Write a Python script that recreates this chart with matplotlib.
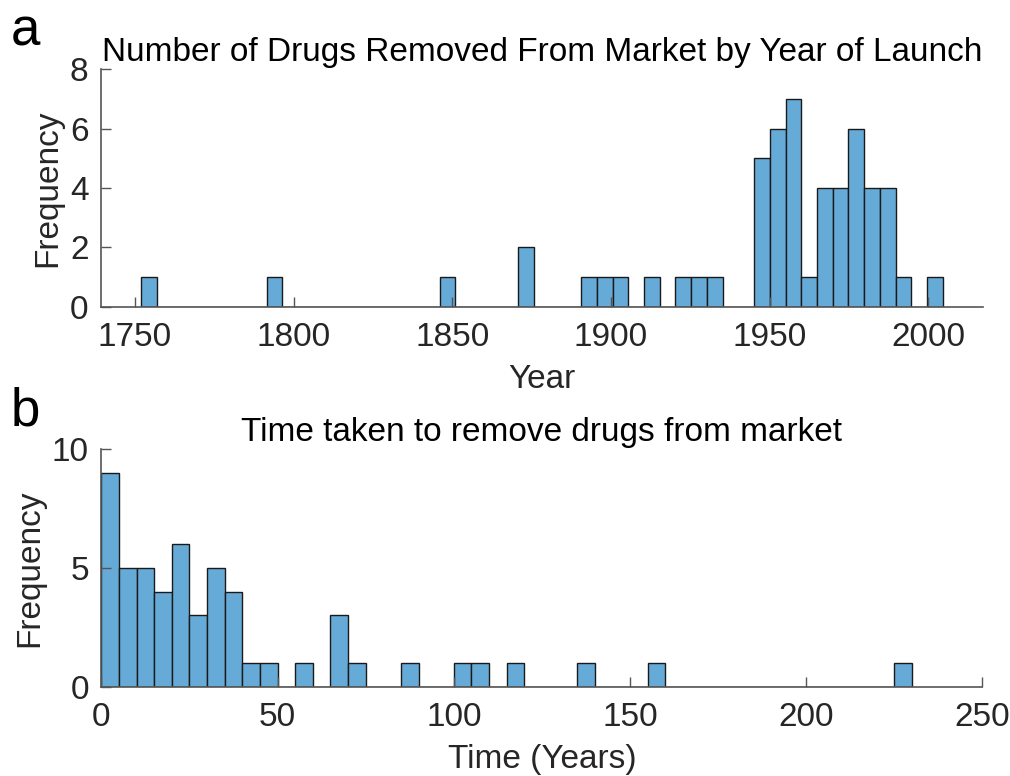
import numpy as np
import matplotlib
matplotlib.use("Agg")
import matplotlib.pyplot as plt

# Panel a: drugs withdrawn, counted by launch year (51 equal bins)
launch_lo, launch_hi = 1751.9, 2004.5
launch_counts = [1, 0, 0, 0, 0, 0, 0, 0, 1, 0,
                 0, 0, 0, 0, 0, 0, 0, 0, 0, 1,
                 0, 0, 0, 0, 2, 0, 0, 0, 1, 1,
                 1, 0, 1, 0, 1, 1, 1, 0, 0, 5,
                 6, 7, 1, 4, 4, 6, 4, 4, 1, 0,
                 1]
year_ticks = [1750, 1800, 1850, 1900, 1950, 2000]
freq_ticks_a = [0, 2, 4, 6, 8]

# Panel b: years between launch and withdrawal (5-year bins from 0)
time_width = 5
time_counts = [9, 5, 5, 4, 6, 3, 5, 4, 1, 1,
               0, 1, 0, 3, 1, 0, 0, 1, 0, 0,
               1, 1, 0, 1, 0, 0, 0, 1, 0, 0,
               0, 1, 0, 0, 0, 0, 0, 0, 0, 0,
               0, 0, 0, 0, 0, 1]
time_ticks = [0, 50, 100, 150, 200, 250]
freq_ticks_b = [0, 5, 10]

plt.rcParams['font.family'] = ['Liberation Sans', 'DejaVu Sans']
FS = 24
face = (0.4, 0.668, 0.845)
axis_col = '#262626'
spine_col = '#555555'

fig = plt.figure(figsize=(10.10, 7.76), dpi=100)


def style(ax):
    for s in ('top', 'right'):
        ax.spines[s].set_visible(False)
    for s in ('left', 'bottom'):
        ax.spines[s].set_color(spine_col)
        ax.spines[s].set_linewidth(1.2)
    ax.tick_params(direction='in', length=7, width=1.0, color=spine_col,
                   labelcolor=axis_col, labelsize=FS)
    ax.tick_params(axis='x', pad=11)
    ax.tick_params(axis='y', pad=9)


# ---- panel a ----
ax1 = fig.add_axes([0.1000, 0.6048, 0.8736, 0.3059])
n_a = len(launch_counts)
edges_a = np.linspace(launch_lo, launch_hi, n_a + 1)
w_a = edges_a[1] - edges_a[0]
ax1.bar(edges_a[:-1], launch_counts, width=w_a, align='edge',
        color=face, edgecolor='#1a1a1a', linewidth=1.0)
ax1.set_xlim(1739.3, 2017.3)
ax1.set_ylim(0, 8)
ax1.set_xticks(year_ticks)
ax1.set_yticks(freq_ticks_a)
style(ax1)
ax1.set_title('Number of Drugs Removed From Market by Year of Launch',
              fontsize=FS, color='black', pad=6)
ax1.set_xlabel('Year', fontsize=FS, color=axis_col, labelpad=8)
ax1.set_ylabel('Frequency', fontsize=FS, color=axis_col, labelpad=5)

# ---- panel b ----
ax2 = fig.add_axes([0.1004, 0.1151, 0.8722, 0.3059])
n_b = len(time_counts)
edges_b = np.arange(n_b + 1) * time_width
ax2.bar(edges_b[:-1], time_counts, width=time_width, align='edge',
        color=face, edgecolor='#1a1a1a', linewidth=1.0)
ax2.set_xlim(0, 250)
ax2.set_ylim(0, 10)
ax2.set_xticks(time_ticks)
ax2.set_yticks(freq_ticks_b)
style(ax2)
ax2.set_title('Time taken to remove drugs from market',
              fontsize=FS, color='black', pad=6)
ax2.set_xlabel('Time (Years)', fontsize=FS, color=axis_col, labelpad=8)
ax2.set_ylabel('Frequency', fontsize=FS, color=axis_col, labelpad=5)

# panel letters
fig.text(0.011, 0.942, 'a', fontsize=38, color='black', va='baseline')
fig.text(0.011, 0.4523, 'b', fontsize=38, color='black', va='baseline')

fig.savefig('out.png', dpi=100)
